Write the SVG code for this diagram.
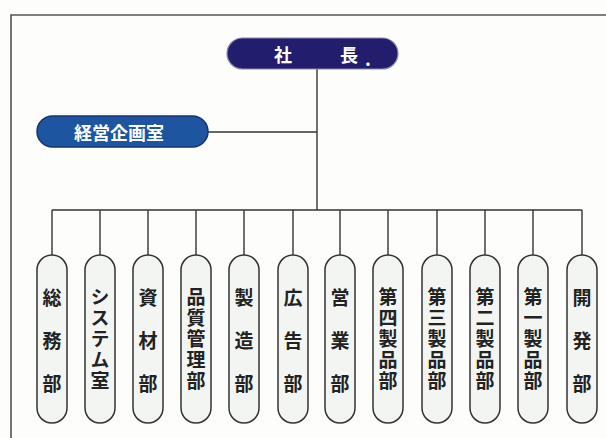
<svg xmlns="http://www.w3.org/2000/svg" width="606" height="438" viewBox="0 0 606 438">
<style>
.frame{fill:none;stroke:#555;stroke-width:1.6}
.conn line{stroke:#333;stroke-width:1.4}
.dept rect{fill:#f3f5f3;stroke:#333;stroke-width:1.5}
.dept text{font-family:"Noto Sans CJK JP","Noto Sans",sans-serif;font-weight:bold;font-size:19px;fill:#222;writing-mode:vertical-rl;text-anchor:start}
.dept .t3{letter-spacing:24px}
.dept .t5{letter-spacing:2px}
.top text{font-family:"Noto Sans CJK JP","Noto Sans",sans-serif;font-weight:bold;font-size:18px;fill:#fff;text-anchor:middle;dominant-baseline:central}
</style>
<rect width="606" height="438" fill="#fdfdfb"/>
<path class="frame" d="M11,438 V15 H606"/>
<g id="connectors" class="conn">
<line x1="317" y1="69" x2="317" y2="210"/>
<line x1="208" y1="132" x2="317" y2="132"/>
<line x1="52" y1="210" x2="582" y2="210"/>
<line x1="52" y1="210" x2="52" y2="255"/>
<line x1="100" y1="210" x2="100" y2="255"/>
<line x1="148" y1="210" x2="148" y2="255"/>
<line x1="196" y1="210" x2="196" y2="255"/>
<line x1="244" y1="210" x2="244" y2="255"/>
<line x1="293" y1="210" x2="293" y2="255"/>
<line x1="340" y1="210" x2="340" y2="255"/>
<line x1="388" y1="210" x2="388" y2="255"/>
<line x1="437" y1="210" x2="437" y2="255"/>
<line x1="485" y1="210" x2="485" y2="255"/>
<line x1="533" y1="210" x2="533" y2="255"/>
<line x1="582" y1="210" x2="582" y2="255"/>
</g>
<g id="president" class="top">
<rect x="227" y="38" width="171" height="31" rx="15.5" fill="#221d6c" stroke="#8a8ab0" stroke-width="1.2"/>
<text x="283" y="54">社</text>
<text x="349" y="54">長</text>
<text x="368" y="58" font-size="10px">.</text>
</g>
<g id="planning" class="top">
<rect x="37" y="116" width="171" height="31" rx="15.5" fill="#1e55a0" stroke="#17346f" stroke-width="1.5"/>
<text x="119" y="132" font-size="19px">経営企画室</text>
</g>
<g id="d1" class="dept"><rect x="37" y="255" width="30" height="168" rx="15"/><text class="t3" x="52" y="288.5">総務部</text></g>
<g id="d2" class="dept"><rect x="85" y="255" width="30" height="168" rx="15"/><text class="t5" x="100" y="287.5">システム室</text></g>
<g id="d3" class="dept"><rect x="133" y="255" width="30" height="168" rx="15"/><text class="t3" x="148" y="288.5">資材部</text></g>
<g id="d4" class="dept"><rect x="181" y="255" width="30" height="168" rx="15"/><text class="t5" x="196" y="287.5">品質管理部</text></g>
<g id="d5" class="dept"><rect x="229" y="255" width="30" height="168" rx="15"/><text class="t3" x="244" y="288.5">製造部</text></g>
<g id="d6" class="dept"><rect x="278" y="255" width="30" height="168" rx="15"/><text class="t3" x="293" y="288.5">広告部</text></g>
<g id="d7" class="dept"><rect x="325" y="255" width="30" height="168" rx="15"/><text class="t3" x="340" y="288.5">営業部</text></g>
<g id="d8" class="dept"><rect x="373" y="255" width="30" height="168" rx="15"/><text class="t5" x="388" y="287.5">第四製品部</text></g>
<g id="d9" class="dept"><rect x="422" y="255" width="30" height="168" rx="15"/><text class="t5" x="437" y="287.5">第三製品部</text></g>
<g id="d10" class="dept"><rect x="470" y="255" width="30" height="168" rx="15"/><text class="t5" x="485" y="287.5">第二製品部</text></g>
<g id="d11" class="dept"><rect x="518" y="255" width="30" height="168" rx="15"/><text class="t5" x="533" y="287.5">第一製品部</text></g>
<g id="d12" class="dept"><rect x="567" y="255" width="30" height="168" rx="15"/><text class="t3" x="582" y="288.5">開発部</text></g>
</svg>
